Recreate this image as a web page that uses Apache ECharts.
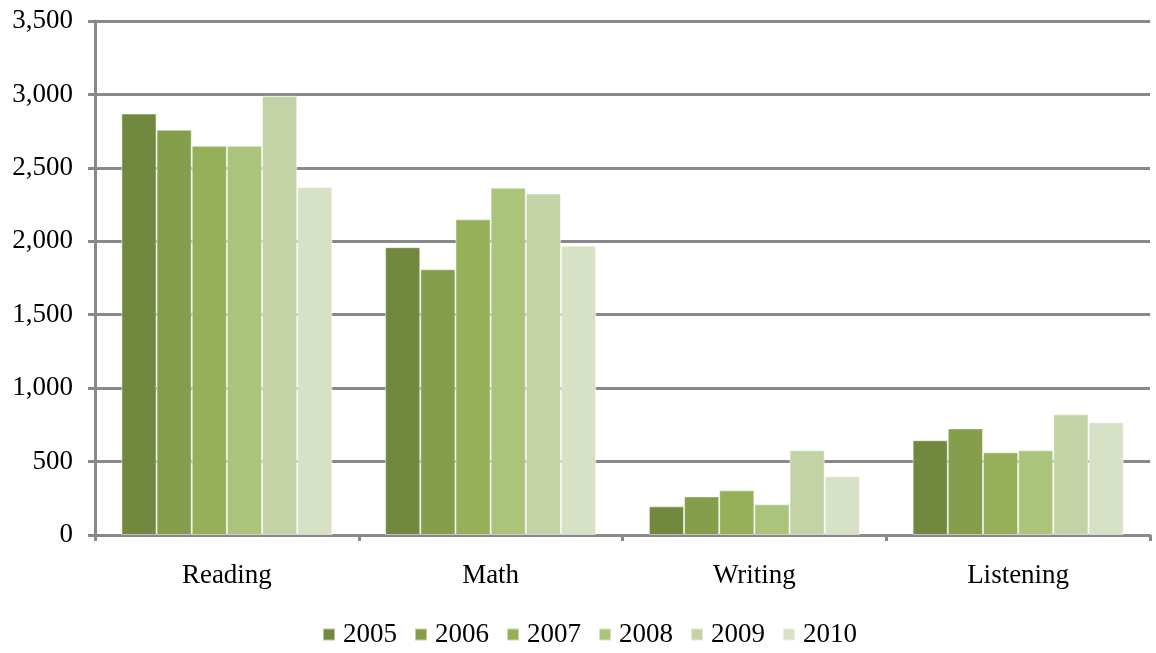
<!DOCTYPE html>
<html>
<head>
<meta charset="utf-8">
<script src="https://cdn.jsdelivr.net/npm/echarts@6/dist/echarts.min.js"></script>
<style>html,body{margin:0;padding:0;background:#fff}#c{width:1156px;height:653px}</style>
</head>
<body>
<div id="c"></div>
<script>
const categories = ['Reading', 'Math', 'Writing', 'Listening'];
const years = ['2005', '2006', '2007', '2008', '2009', '2010'];
const v2005 = [2870, 1960, 195, 645];
const v2006 = [2760, 1810, 263, 726];
const v2007 = [2650, 2150, 304, 563];
const v2008 = [2650, 2365, 209, 577];
const v2009 = [2990, 2325, 577, 822];
const v2010 = [2370, 1970, 400, 767];
const yTicks = [0, 500, 1000, 1500, 2000, 2500, 3000, 3500];

const colors = ['#71893f', '#849e4b', '#96b05a', '#aac47c', '#c3d3a5', '#d7e1c5'];
const values = [v2005, v2006, v2007, v2008, v2009, v2010];
const font = 'Liberation Serif';

const chart = echarts.init(document.getElementById('c'));
chart.setOption({
  animation: false,
  color: colors,
  grid: { left: 95, right: 6, top: 21, bottom: 118, containLabel: false },
  legend: {
    bottom: 0, left: 317,
    itemWidth: 12, itemHeight: 12, itemGap: 17,
    icon: 'rect',
    textStyle: { fontFamily: font, fontSize: 27, color: '#000', padding: [0, 0, 0, 3] },
    data: years
  },
  xAxis: {
    type: 'category', data: categories,
    axisLine: { lineStyle: { color: '#898989', width: 3 } },
    axisTick: { show: true, length: 6, lineStyle: { color: '#898989', width: 3 } },
    axisLabel: { fontFamily: font, fontSize: 27, color: '#000', margin: 27 },
    splitLine: { show: false }
  },
  yAxis: {
    type: 'value', min: yTicks[0], max: yTicks[yTicks.length - 1], interval: 500,
    axisLine: { show: true, lineStyle: { color: '#898989', width: 3 } },
    axisTick: { show: true, length: 7, lineStyle: { color: '#898989', width: 3 } },
    axisLabel: {
      fontFamily: font, fontSize: 27, color: '#000', margin: 22,
      formatter: v => v.toLocaleString('en-US')
    },
    splitLine: { lineStyle: { color: '#898989', width: 3 } }
  },
  series: years.map((y, i) => ({
    name: y, type: 'bar', data: values[i],
    barGap: '0%', barCategoryGap: '20%',
    itemStyle: { color: colors[i], borderColor: 'rgba(255,255,255,0.5)', borderWidth: 1 }
  }))
});
</script>
</body>
</html>
